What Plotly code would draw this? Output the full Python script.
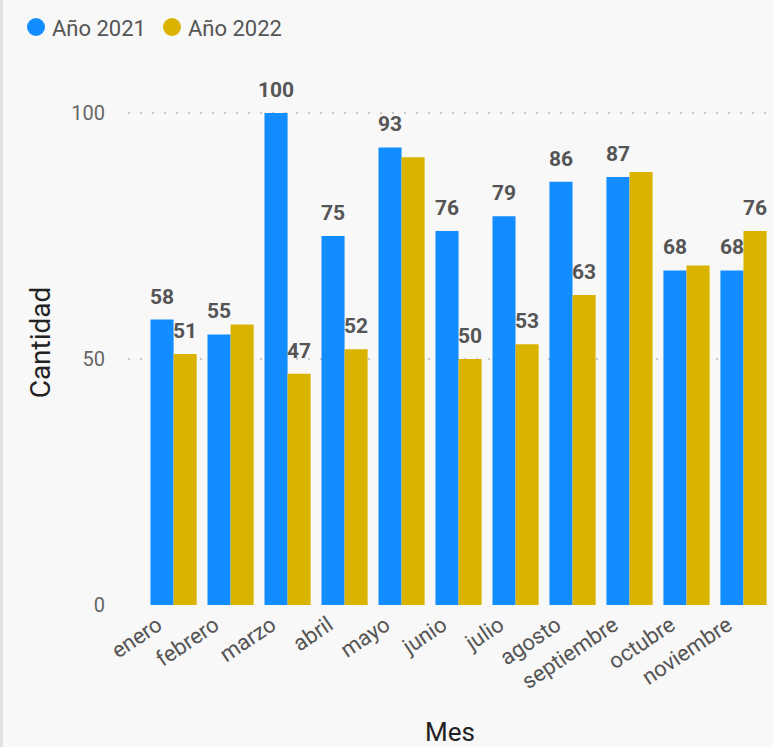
import plotly.graph_objects as go

meses = ["enero", "febrero", "marzo", "abril", "mayo", "junio", "julio",
         "agosto", "septiembre", "octubre", "noviembre"]
anio_2021 = [58, 55, 100, 75, 93, 76, 79, 86, 87, 68, 68]
anio_2022 = [51, 57, 47, 52, 91, 50, 53, 63, 88, 69, 76]
series_names = ["Año 2021", "Año 2022"]
# data labels that are visible in the reference (others hidden by overlap)
label_2021 = [True, True, True, True, True, True, True, True, True, True, True]
label_2022 = [True, False, True, True, False, True, True, True, False, False, True]

c2021 = "#118DFF"
c2022 = "#D9B300"
bg = "#F8F8F8"
FONT = "Roboto"

W, H = 774, 747
ML, MR, MT, MB = 128, 2, 80, 142
PW, PH = W - ML - MR, H - MT - MB

def px(p):  # pixel x -> paper x
    return (p - ML) / PW

def py(q):  # pixel y -> paper y
    return (H - MB - q) / PH

fig = go.Figure()
for name, vals, col in [(series_names[0], anio_2021, c2021), (series_names[1], anio_2022, c2022)]:
    fig.add_trace(go.Bar(x=meses, y=vals, name=name, showlegend=False,
                         marker=dict(color=col, line=dict(width=0))))

# data labels
for vals, flags, shift in [(anio_2021, label_2021, -11.5), (anio_2022, label_2022, 11.5)]:
    for m, v, f in zip(meses, vals, flags):
        if f:
            fig.add_annotation(x=m, y=v, text=str(v), showarrow=False,
                               xanchor="center", yanchor="bottom", xshift=shift, yshift=9,
                               font=dict(family=FONT, size=21, color="#555555", weight="bold"))

# manual legend (circle + text)
for name, col, cx in [(series_names[0], c2021, 36), (series_names[1], c2022, 172)]:
    fig.add_shape(type="circle", xref="paper", yref="paper",
                  x0=px(cx - 9), x1=px(cx + 9), y0=py(27 + 9), y1=py(27 - 9),
                  fillcolor=col, line=dict(width=0))
    fig.add_annotation(xref="paper", yref="paper", x=px(cx + 14), y=py(28),
                       text=name, showarrow=False, xanchor="left", yanchor="middle",
                       font=dict(family=FONT, size=22, color="#555555"))

fig.update_layout(
    width=W, height=H,
    paper_bgcolor=bg, plot_bgcolor=bg,
    margin=dict(l=ML, r=MR, t=MT, b=MB, autoexpand=False),
    barmode="group", bargap=0.19, bargroupgap=0,
    font=dict(family=FONT, color="#555555"),
    showlegend=False,
    xaxis=dict(range=[-0.8, 10.5], tickangle=-34, showgrid=False, zeroline=False,
               showline=False, ticks="", ticklabelshift=-16, ticklabelstandoff=2,
               automargin=False,
               tickfont=dict(family=FONT, size=22, color="#555555"),
               title=dict(text="Mes", font=dict(family=FONT, size=26, color="#222222"),
                          standoff=52)),
    yaxis=dict(range=[0, 106.7], tickvals=[0, 50, 100], showgrid=True,
               gridcolor="#C8C8C8", griddash="2px,10px", gridwidth=2, zeroline=False,
               showline=False, ticks="", ticklabelstandoff=22, automargin=False,
               tickfont=dict(family=FONT, size=20, color="#666666"),
               title=dict(text="Cantidad", font=dict(family=FONT, size=28, color="#222222"),
                          standoff=12)),
)
fig.add_shape(type="line", xref="paper", yref="paper", x0=px(1.5), x1=px(1.5), y0=-1, y1=2,
              line=dict(color="#E1E1E1", width=3))
fig.write_html("out.html", config={"displayModeBar": False},
               post_script="document.body.style.margin='0';")
